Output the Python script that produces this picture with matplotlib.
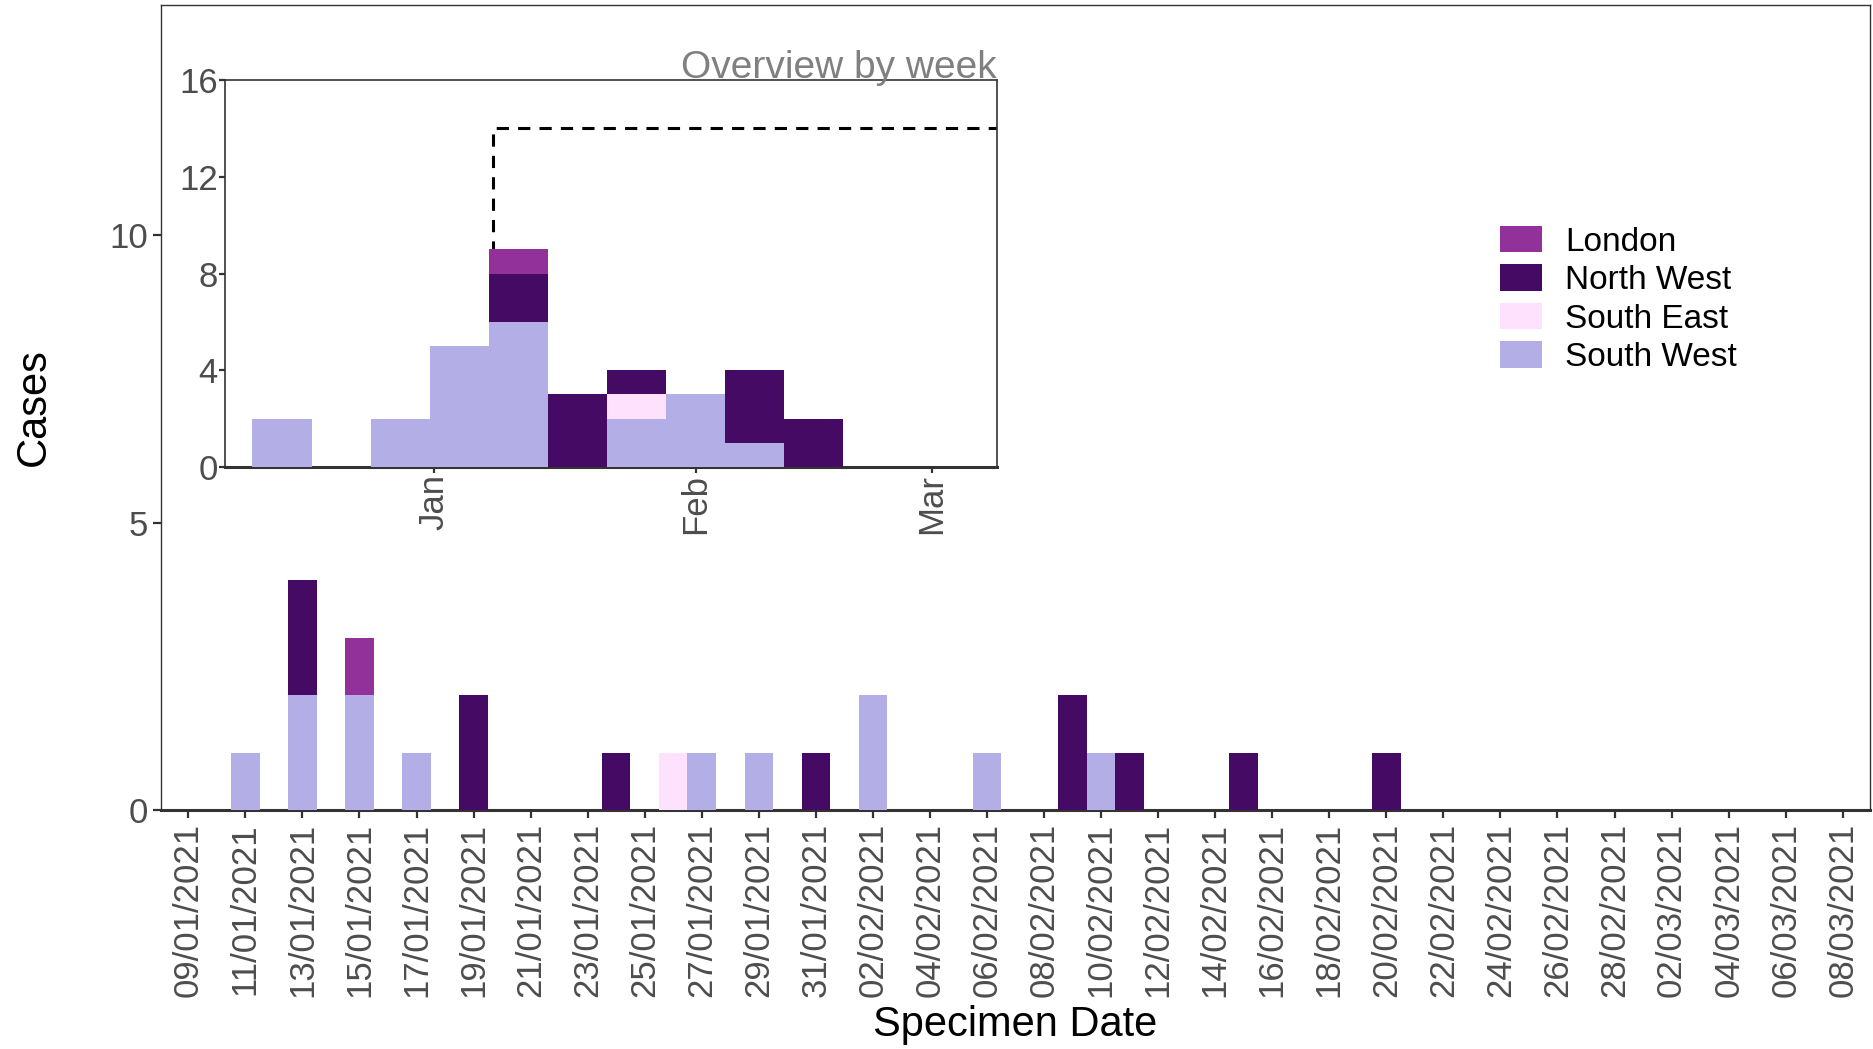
import numpy as np
import pandas as pd
import matplotlib
matplotlib.use("Agg")
import matplotlib.pyplot as plt
import matplotlib.dates as mdates
from matplotlib.patches import Patch

plt.rcParams['font.family'] = ['Liberation Sans', 'DejaVu Sans']

# цвета регионов
regions = ['London', 'North West', 'South East', 'South West']
colors = {'London': '#93319A', 'North West': '#450A63',
          'South East': '#FDE1FD', 'South West': '#B3AEE5'}

# ежедневные случаи (по дате взятия образца)
day_dates = pd.to_datetime(['2021-01-11', '2021-01-13', '2021-01-15', '2021-01-17',
                            '2021-01-19', '2021-01-24', '2021-01-26', '2021-01-27',
                            '2021-01-29', '2021-01-31', '2021-02-02', '2021-02-06',
                            '2021-02-09', '2021-02-10', '2021-02-11', '2021-02-15',
                            '2021-02-20'])
day_sw = [1, 2, 2, 1, 0, 0, 0, 1, 1, 0, 2, 1, 0, 1, 0, 0, 0]
day_se = [0, 0, 0, 0, 0, 0, 1, 0, 0, 0, 0, 0, 0, 0, 0, 0, 0]
day_nw = [0, 2, 0, 0, 2, 1, 0, 0, 0, 1, 0, 0, 2, 0, 1, 1, 1]
day_lon = [0, 0, 1, 0, 0, 0, 0, 0, 0, 0, 0, 0, 0, 0, 0, 0, 0]

# понедельные случаи (обзор)
week_dates = pd.to_datetime(['2020-12-14', '2020-12-21', '2020-12-28', '2021-01-04',
                             '2021-01-11', '2021-01-18', '2021-01-25', '2021-02-01',
                             '2021-02-08', '2021-02-15'])
week_sw = [2, 0, 2, 5, 6, 0, 2, 3, 1, 0]
week_se = [0, 0, 0, 0, 0, 0, 1, 0, 0, 0]
week_nw = [0, 0, 0, 0, 2, 3, 1, 0, 3, 2]
week_lon = [0, 0, 0, 0, 1, 0, 0, 0, 0, 0]

main_ticks = pd.date_range('2021-01-09', '2021-03-08', freq='2D')
main_xlim = (pd.Timestamp('2021-01-08 01:00'), pd.Timestamp('2021-03-08 23:00'))
main_ylim = (0, 14)
inset_xlim = (pd.Timestamp('2020-12-07 05:00'), pd.Timestamp('2021-03-08 16:00'))
month_ticks = pd.to_datetime(['2021-01-01', '2021-02-01', '2021-03-01'])

GREY = '#4D4D4D'
SPINE = '#333333'


def stacked(ax, x, series, width):
    bottom = np.zeros(len(x))
    for name, vals in series:
        vals = np.asarray(vals, dtype=float)
        ax.bar(x, vals, width=width, bottom=bottom, color=colors[name],
               edgecolor='none', align='center', zorder=3)
        bottom += vals


fig = plt.figure(figsize=(18.74, 10.49), dpi=100)
ax = fig.add_axes([0.0859, 0.2278, 0.912, 0.7674])

stacked(ax, mdates.date2num(day_dates),
        [('South West', day_sw), ('South East', day_se),
         ('North West', day_nw), ('London', day_lon)], 1.0)

ax.set_xlim(main_xlim)
ax.set_ylim(main_ylim)
ax.set_xticks(main_ticks)
ax.set_xticklabels([d.strftime('%d/%m/%Y') for d in main_ticks], rotation=90)
ax.set_yticks([0, 5, 10])
ax.tick_params(axis='both', labelsize=25, labelcolor=GREY, color=SPINE,
               length=5.5, width=1.6, direction='out', pad=4)
for s in ax.spines.values():
    s.set_color(SPINE)
    s.set_linewidth(1.0)
ax.spines['bottom'].set_linewidth(2.2)
ax.set_ylabel('Cases', fontsize=30, labelpad=40)
ax.set_xlabel('Specimen Date', fontsize=30, labelpad=5.5)

# вставка: обзор по неделям
ax_in = fig.add_axes([0.1199, 0.5548, 0.4119, 0.3689])
stacked(ax_in, mdates.date2num(week_dates),
        [('South West', week_sw), ('South East', week_se),
         ('North West', week_nw), ('London', week_lon)], 7.0)
# рамка диапазона основного графика
x0, x1 = mdates.date2num(main_xlim[0]), mdates.date2num(main_xlim[1])
ax_in.plot([x0, x0, x1, x1], [main_ylim[0], main_ylim[1], main_ylim[1], main_ylim[0]],
           color='black', ls=(0, (4, 3)), lw=2.2, zorder=2)
ax_in.set_xlim(inset_xlim)
ax_in.set_ylim(0, 16)
ax_in.set_xticks(month_ticks)
ax_in.set_xticklabels(['Jan', 'Feb', 'Mar'], rotation=90)
ax_in.set_yticks([0, 4, 8, 12, 16])
ax_in.tick_params(axis='both', labelsize=25, labelcolor=GREY, color=SPINE,
                  length=4, width=1.6, direction='out', pad=1)
for s in ax_in.spines.values():
    s.set_color(SPINE)
    s.set_linewidth(1.2)
ax_in.spines['bottom'].set_linewidth(2.2)
ax_in.text(1.0, 1.006, 'Overview by week', transform=ax_in.transAxes,
           ha='right', va='baseline', fontsize=28, color='#808080')

handles = [Patch(facecolor=colors[r], edgecolor='none') for r in regions]
fig.legend(handles, regions, loc='upper left', bbox_to_anchor=(1500 / 1874, 1 - 226 / 1049),
           frameon=False, fontsize=24, borderpad=0, borderaxespad=0,
           handlelength=1.26, handleheight=0.84, handletextpad=0.7, labelspacing=0.2)

fig.savefig('out.png', dpi=100)
